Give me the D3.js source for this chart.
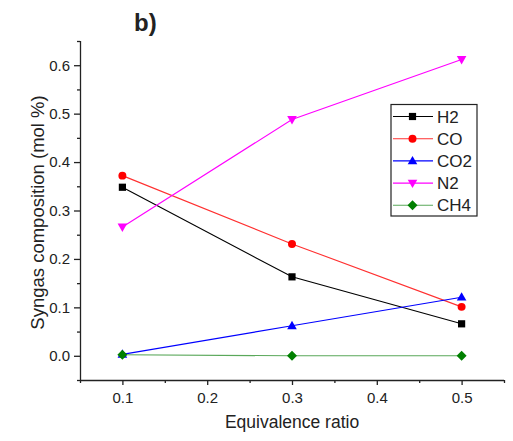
<!DOCTYPE html>
<html>
<head>
<meta charset="utf-8">
<script src="https://cdn.jsdelivr.net/npm/d3@7"></script>
<style>
  html, body { margin: 0; padding: 0; background: #fff; }
  svg { display: block; }
  text { font-family: "Liberation Sans", Arial, sans-serif; fill: #222; }
</style>
</head>
<body>
<svg id="chart" width="513" height="441"></svg>
<script>
// Equivalence ratio values on the x axis
const ratios = [0.1, 0.3, 0.5];

// Syngas composition (mol %) for each gas
const h2  = [0.348, 0.163, 0.066];
const co  = [0.372, 0.231, 0.101];
const co2 = [0.003, 0.062, 0.121];
const n2  = [0.266, 0.488, 0.612];
const ch4 = [0.002, 0.000, 0.000];

const seriesNames = ["H2", "CO", "CO2", "N2", "CH4"];
const seriesColors = ["#000000", "#ff0000", "#0000ff", "#ff00ff", "#008000"];
const lineColors = ["#000000", "#ff3030", "#0000ff", "#ff00ff", "#5aa85a"];
const seriesShapes = ["square", "circle", "triangleUp", "triangleDown", "diamond"];
const seriesValues = [h2, co, co2, n2, ch4];

const xTicks = [0.1, 0.2, 0.3, 0.4, 0.5];
const yTicks = [0.0, 0.1, 0.2, 0.3, 0.4, 0.5, 0.6];

const svg = d3.select("#chart");
const plotLeft = 80, plotRight = 504, plotTop = 41, plotBottom = 380;

const x = d3.scaleLinear().domain([0.05, 0.55]).range([plotLeft, plotRight]);
const y = d3.scaleLinear().domain([-0.05, 0.65]).range([plotBottom, plotTop]);

// Marker path generator per shape
function markerPath(shape) {
  switch (shape) {
    case "square": return "M-3.6,-3.6H3.6V3.6H-3.6Z";
    case "circle": return d3.symbol(d3.symbolCircle, 50)();
    case "triangleUp": return "M0,-5L4.8,3.4H-4.8Z";
    case "triangleDown": return "M0,5L4.8,-3.4H-4.8Z";
    case "diamond": return "M0,-5L5,0L0,5L-5,0Z";
  }
}

// Axes: major ticks with labels, minor ticks halfway between
const xAxis = d3.axisBottom(x).tickValues(xTicks).tickFormat(d3.format(".1f")).tickSize(5).tickPadding(7);
const yAxis = d3.axisLeft(y).tickValues(yTicks).tickFormat(d3.format(".1f")).tickSize(6).tickPadding(4);

const gx = svg.append("g").attr("transform", `translate(0,${plotBottom})`).call(xAxis);
const gy = svg.append("g").attr("transform", `translate(${plotLeft},0)`).call(yAxis);

const xMinor = [0.05, 0.15, 0.25, 0.35, 0.45, 0.55];
const yMinor = [-0.05, 0.05, 0.15, 0.25, 0.35, 0.45, 0.55, 0.65];
svg.append("g").attr("transform", `translate(0,${plotBottom})`)
  .call(d3.axisBottom(x).tickValues(xMinor).tickFormat("").tickSize(3).tickSizeOuter(0))
  .select(".domain").remove();
svg.append("g").attr("transform", `translate(${plotLeft},0)`)
  .call(d3.axisLeft(y).tickValues(yMinor).tickFormat("").tickSize(3).tickSizeOuter(0))
  .select(".domain").remove();

gx.select(".domain").attr("d", `M${plotLeft},0.5H${plotRight}`);
gy.select(".domain").attr("d", `M0.5,${plotBottom}V${plotTop}`);
[gx, gy].forEach(g => {
  g.selectAll("path").attr("stroke", "#222").attr("stroke-width", 1.3);
  g.selectAll("text").attr("font-size", 15).attr("fill", "#222");
});
svg.selectAll("g.tick line").attr("stroke", "#222").attr("stroke-width", 1.3);

// Series lines and markers
const line = d3.line().x((d, i) => x(ratios[i])).y(d => y(d));
seriesValues.forEach((vals, k) => {
  svg.append("path").datum(vals)
    .attr("d", line)
    .attr("fill", "none")
    .attr("stroke", lineColors[k])
    .attr("stroke-width", 1.1);
});
seriesValues.forEach((vals, k) => {
  svg.append("g").selectAll("path").data(vals).join("path")
    .attr("d", markerPath(seriesShapes[k]))
    .attr("transform", (d, i) => `translate(${x(ratios[i])},${y(d)})`)
    .attr("fill", seriesColors[k]);
});

// Legend
const lg = svg.append("g");
lg.append("rect").attr("x", 391).attr("y", 104.5).attr("width", 86).attr("height", 111.5)
  .attr("fill", "#fff").attr("stroke", "#222").attr("stroke-width", 1.2);
seriesNames.forEach((name, k) => {
  const yy = 116.5 + k * 22.2;
  lg.append("line").attr("x1", 393).attr("x2", 433).attr("y1", yy).attr("y2", yy)
    .attr("stroke", lineColors[k]).attr("stroke-width", 1.1);
  lg.append("path").attr("d", markerPath(seriesShapes[k]))
    .attr("transform", `translate(412.5,${yy})`).attr("fill", seriesColors[k]);
  lg.append("text").attr("x", 437).attr("y", yy + 6).attr("font-size", 17).text(name);
});

// Axis titles and panel label
svg.append("text").attr("x", 292).attr("y", 428).attr("text-anchor", "middle")
  .attr("font-size", 17.5).text("Equivalence ratio");
svg.append("text").attr("transform", "translate(43.5,212.5) rotate(-90)").attr("text-anchor", "middle")
  .attr("font-size", 18.5).text("Syngas composition (mol %)");
svg.append("text").attr("x", 134).attr("y", 31).attr("font-size", 24)
  .attr("font-weight", "bold").attr("font-family", "'Open Sans', sans-serif").attr("fill", "#000").text("b)");
</script>
</body>
</html>
